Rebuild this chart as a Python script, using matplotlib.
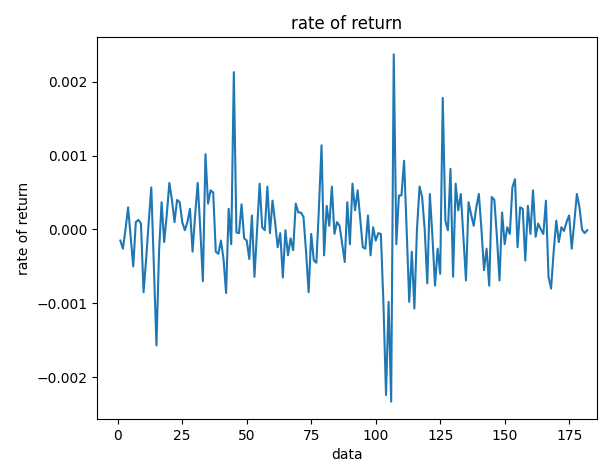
import matplotlib
matplotlib.use("Agg")
import matplotlib.pyplot as plt
import numpy as np

days = list(range(1, 183))
returns = [
    -0.00015, -0.00026, 0.0, 0.0003, -0.0001, -0.0005, 0.0001, 0.00013, 0.00008, -0.00085,
    -0.0004, 0.0001, 0.00057, -0.0005, -0.00157, -0.0003, 0.00037, -0.00017, 0.0002, 0.00063,
    0.0004, 0.0001, 0.0004, 0.00037, 0.0001, -0.00001, 0.0001, 0.00028, -0.0003, 0.0002,
    0.00063, 0.0, -0.0007, 0.00102, 0.00035, 0.00053, 0.0005, -0.0003, -0.00033, -0.00015,
    -0.0004, -0.00086, 0.00028, -0.0002, 0.00213, -0.00004, -0.00005, 0.00034, -0.00012, -0.00015,
    -0.0004, 0.00019, -0.00064, 0.0, 0.00062, 0.00003, -0.00001, 0.00058, -0.00005, 0.00039,
    0.0001, -0.00024, -0.00005, -0.00065, -0.00001, -0.00035, -0.00012, -0.00028, 0.00035, 0.00023,
    0.00023, 0.00017, -0.0003, -0.00085, -0.00006, -0.00042, -0.00045, 0.0003, 0.00114, -0.00035,
    0.00032, 0.00005, 0.00058, -0.00006, 0.0001, 0.00005, -0.0002, -0.00044, 0.00037, -0.0002,
    0.00062, 0.00026, 0.00053, 0.00015, -0.00024, -0.00026, 0.00019, -0.00035, 0.00003, -0.00015,
    -0.00005, -0.00006, -0.001, -0.00224, -0.00098, -0.00233, 0.00237, -0.0002, 0.00046, 0.00046,
    0.00093, 0.0, -0.00098, -0.0003, -0.00107, 0.0, 0.00058, 0.00044, 0.0, -0.00073,
    0.00048, -0.0001, -0.00076, -0.00026, -0.0006, 0.00178, 0.00012, -0.00001, 0.00082, -0.00064,
    0.00062, 0.00026, 0.00048, -0.0001, -0.00069, 0.00037, 0.0002, 0.00005, 0.0003, 0.00048,
    0.0, -0.00055, -0.00026, -0.00076, 0.00044, 0.0004, -0.0001, -0.00069, 0.00023, -0.0002,
    0.00003, -0.00006, 0.00057, 0.00068, -0.00024, 0.0003, 0.00028, -0.00042, 0.00032, -0.00006,
    0.00053, -0.0001, 0.00008, 0.0, -0.00006, 0.00039, -0.00064, -0.0008, -0.0003, 0.00012,
    -0.00017, 0.00003, -0.00002, 0.0001, 0.00019, -0.00026, 0.0001, 0.00048, 0.0003, 0.0,
    -0.00005, -0.00001,
]

fig = plt.figure(figsize=(6.09, 4.61), dpi=100)
ax = fig.add_axes([97/609, 42/461, 500/609, 382/461])
ax.plot(days, returns, color="#1f77b4", linewidth=1.5)
ax.set_xlim(-8.05, 185.8)
ax.set_title("rate of return")
ax.set_xlabel("data")
ax.set_ylabel("rate of return")
fig.savefig("out.png", dpi=100)
